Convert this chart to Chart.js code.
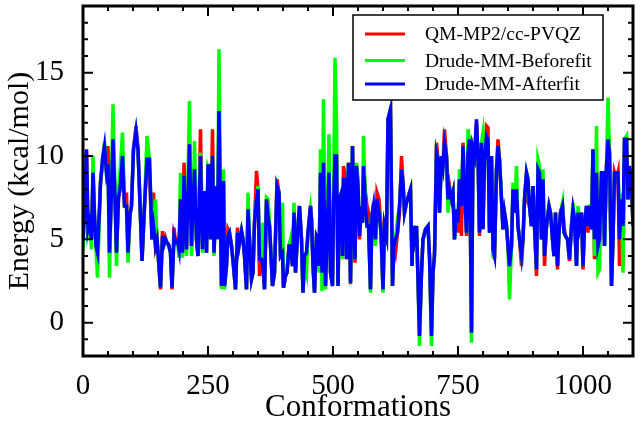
<!DOCTYPE html>
<html>
<head>
<meta charset="utf-8">
<script src="https://cdn.jsdelivr.net/npm/chart.js@4"></script>
<style>
html,body{margin:0;padding:0;background:#fff;}
#wrap{width:641px;height:426px;}
</style>
</head>
<body>
<div id="wrap"><canvas id="c" width="641" height="426"></canvas></div>
<script>
// ---------------- data ----------------
const conformations = [
  0,3,7,10,13,17,20,23,26,29,33,35,39,43,47,50,53,57,60,64,67,71,74,79,83,87,90,94,97,101,106,110,113,118,123,128,133,138,141,145,148,150,155,159,161,165,168,171,175,178,182,185,189,192,195,199,202,207,213,217,220,
  223,227,230,235,239,241,244,247,250,253,255,259,262,267,269,272,277,281,283,287,290,293,297,301,305,309,312,317,320,323,327,330,333,337,340,343,347,350,353,357,360,363,367,370,373,379,383,388,392,395,399,401,405,408,412,415,419,422,425,430,433,437,440,
  443,447,450,455,457,460,463,467,470,472,475,478,481,485,488,492,495,499,501,504,507,510,513,517,519,521,525,527,531,535,539,541,544,547,550,553,557,559,561,565,568,571,575,578,581,585,588,592,596,600,603,607,610,615,619,622,625,629,633,637,640,643,647,651,655,658,
  660,663,667,670,673,677,680,685,690,693,697,700,703,707,710,713,717,720,723,727,730,733,737,740,743,747,750,753,757,760,763,767,770,773,777,780,783,787,790,793,797,800,803,807,810,813,817,820,823,827,830,833,837,840,843,847,850,853,857,860,863,867,870,873,877,
  880,883,887,890,893,897,900,903,907,910,913,917,920,923,927,932,935,939,942,945,949,952,955,959,962,965,969,973,977,980,983,987,990,993,997,1000,1003,1007,1010,1013,1017,1020,1023,1027,1030,1033,1037,1040,1043,1047,1050,1053,1057,1060,1063,1067,1070,1073,1077,1080,1083,1087,1090,1093,1097,1100
];

const qmMP2 = [
  5.8,6.5,10.2,5.8,6.2,5.2,9.0,6.0,5.0,4.4,7.0,8.4,9.5,10.6,9.0,10.6,4.2,8.0,11.0,7.5,4.2,7.5,8.0,10.0,7.0,7.8,4.2,6.5,7.0,10.4,11.8,10.4,8.0,3.7,7.0,9.8,9.0,5.0,7.8,4.6,5.0,4.2,2.0,5.5,4.6,5.1,4.8,4.7,4.2,2.0,5.7,4.8,5.0,4.4,7.4,4.2,9.6,4.4,10.7,4.6,7.5,
  9.4,5.0,4.0,11.6,4.4,7.8,7.8,4.2,9.4,9.4,5.0,11.6,4.2,8.2,5.0,12.7,2.2,8.5,2.2,3.4,5.6,5.4,4.6,3.4,2.0,5.7,4.6,5.5,5.0,4.0,2.0,6.8,5.0,2.6,3.0,6.0,9.1,8.0,2.8,3.8,3.4,2.0,7.4,6.4,5.8,2.2,3.0,8.6,7.8,4.0,4.2,2.1,2.8,3.0,4.6,4.6,3.4,6.6,3.0,5.8,7.0,5.0,1.8,
  4.0,4.2,5.4,7.0,6.2,3.4,1.8,5.2,5.0,3.4,9.0,3.0,9.6,2.2,5.0,9.0,3.0,2.2,7.0,10.0,10.0,2.2,7.4,7.8,4.0,9.4,8.6,3.8,9.6,2.3,10.6,7.0,3.6,9.4,8.2,5.0,7.0,6.0,9.4,7.8,7.0,6.6,2.0,6.4,7.2,5.0,7.8,7.4,5.8,2.0,5.8,5.2,12.2,12.8,2.2,4.6,4.2,5.4,6.6,10.0,8.4,6.6,7.2,7.6,8.0,3.6,
  5.8,5.0,5.8,2.6,-0.6,3.0,5.0,5.6,5.8,4.0,-0.6,3.0,4.2,10.8,9.8,6.6,10.0,9.4,11.6,10.0,7.4,8.2,7.4,7.8,5.0,6.8,5.4,8.6,5.2,10.8,8.0,5.2,10.2,11.0,-0.6,10.4,10.0,12.0,10.0,5.2,10.8,5.6,9.8,11.8,11.7,5.4,10.0,4.4,3.8,9.2,11.0,9.8,7.4,5.6,6.6,5.8,4.6,3.4,4.6,8.0,6.6,8.0,5.8,5.0,3.4,
  5.0,7.4,9.0,7.2,7.0,5.8,8.2,5.8,2.8,9.2,9.0,5.0,8.6,3.4,5.8,7.0,6.6,5.0,4.0,6.6,3.2,5.4,6.6,7.0,5.8,5.2,5.0,3.7,5.8,6.8,6.2,3.4,6.6,5.8,6.6,3.2,5.8,7.0,5.4,7.0,5.6,10.4,3.8,9.0,4.6,5.0,9.0,9.0,4.6,9.4,11.4,10.2,2.2,5.0,9.0,8.6,9.0,3.4,7.4,3.4,11.0,11.0,7.4,9.2,8.4,5.8
];

const drudeBeforefit = [
  4.3,6.5,9.5,5.5,6.0,4.4,10.0,6.5,4.4,2.7,6.5,8.4,9.8,10.8,8.8,9.5,2.7,8.5,13.1,8.0,3.4,8.0,9.0,11.4,7.0,7.0,3.6,6.5,7.0,10.4,11.5,10.2,8.0,3.7,7.0,11.2,9.8,5.0,5.8,7.4,5.0,4.2,2.1,5.0,4.6,5.0,4.7,4.7,4.2,2.1,5.0,4.8,4.9,3.9,9.0,3.9,8.8,4.0,13.3,4.0,6.5,
  10.9,5.0,4.0,10.2,4.2,7.5,6.6,4.2,9.4,9.2,5.0,10.0,4.0,8.2,5.0,16.4,2.0,9.2,2.0,3.4,5.2,5.4,4.6,3.4,2.0,5.4,4.6,5.5,5.0,4.0,2.0,7.8,5.0,2.6,3.0,6.0,7.4,8.2,3.8,3.8,6.0,2.0,7.5,7.4,6.1,2.2,3.0,8.2,7.8,4.0,7.2,2.1,2.8,3.0,4.6,5.0,3.4,7.2,3.0,5.8,7.0,5.0,1.8,
  3.6,3.0,5.4,6.8,6.2,3.4,1.8,5.0,5.0,3.0,10.4,1.9,13.4,2.0,5.0,11.3,3.0,2.2,7.0,15.9,12.0,2.2,7.4,7.8,3.8,8.6,8.6,4.0,9.6,2.4,10.6,7.0,3.8,9.6,8.6,5.4,7.0,6.0,11.2,7.0,5.8,5.8,1.8,6.4,7.0,4.6,7.4,6.6,5.4,1.8,5.8,5.2,12.2,12.8,2.2,4.6,5.0,6.2,7.0,9.2,8.4,6.6,7.2,7.6,8.0,3.4,
  5.8,5.0,5.8,2.6,-1.4,3.0,5.0,5.6,5.8,4.0,-1.4,3.0,4.0,10.2,9.8,6.6,10.0,9.4,10.8,10.0,6.6,8.0,7.4,7.8,5.0,6.8,6.0,9.2,7.0,10.6,8.0,5.4,11.6,11.0,-1.2,10.4,10.0,11.6,10.0,5.4,10.8,11.4,9.8,11.2,11.0,5.4,10.0,4.0,4.0,9.2,10.6,9.8,7.4,5.6,6.6,5.8,4.6,1.4,4.6,8.4,6.6,9.4,5.8,5.0,4.0,
  5.0,7.4,9.0,8.6,7.0,5.8,8.2,5.8,3.2,9.8,9.4,5.0,9.2,4.0,5.8,7.0,6.6,5.0,4.0,6.6,3.4,5.4,6.6,7.2,5.4,5.2,5.0,3.8,5.8,7.2,6.2,3.4,7.0,5.8,6.6,3.4,5.8,7.0,5.8,7.0,7.0,10.4,4.0,11.8,3.0,3.2,9.0,9.0,4.6,9.4,13.5,10.2,2.2,5.0,9.0,9.0,9.0,7.0,7.4,3.0,11.0,11.2,7.4,9.4,8.4,5.8
];

const drudeAfterfit = [
  5.0,6.5,10.4,5.6,6.0,5.0,9.0,6.5,4.6,4.2,6.8,8.4,9.8,10.6,9.0,9.5,4.2,8.0,11.0,7.5,4.2,7.5,8.0,10.0,7.0,7.0,4.2,6.5,7.0,10.4,11.5,10.4,8.0,3.7,7.0,9.8,9.8,5.0,5.8,4.6,5.0,4.2,2.1,5.2,4.6,5.0,4.8,4.7,4.2,2.1,5.2,4.8,4.9,4.4,7.4,4.2,8.8,4.4,10.7,4.6,7.0,
  9.2,5.0,4.0,10.0,4.4,7.8,7.8,4.2,9.4,9.4,5.0,10.0,4.2,8.2,5.0,12.7,2.2,8.5,2.2,3.4,5.2,5.4,4.6,3.4,2.0,5.4,4.6,5.5,5.0,4.0,2.0,6.8,5.0,2.6,3.0,6.0,7.4,8.0,3.8,3.8,3.4,2.0,7.4,6.4,5.8,2.2,3.0,8.2,7.8,4.0,4.2,2.1,2.8,3.0,4.6,4.6,3.4,6.6,3.0,5.8,7.0,5.0,1.8,
  4.0,4.2,5.4,7.0,6.2,3.4,1.8,5.2,5.0,3.4,9.0,3.0,9.6,2.2,5.0,9.0,3.0,2.2,7.0,10.0,10.0,2.2,7.4,7.8,4.0,8.6,8.6,3.8,9.6,2.4,10.6,7.0,3.8,9.4,8.2,5.2,7.0,6.0,9.4,7.0,5.8,5.8,2.0,6.4,7.0,5.0,7.4,6.6,5.4,2.0,5.8,5.2,12.2,12.8,2.2,4.6,5.0,5.4,7.0,9.2,8.4,6.6,7.2,7.6,8.0,3.4,
  5.8,5.0,5.8,2.6,-0.8,3.0,5.0,5.6,5.8,4.0,-0.8,3.0,4.0,10.2,9.8,6.6,10.0,9.4,10.8,10.0,7.4,8.0,7.4,7.8,5.0,6.8,6.0,8.6,7.0,10.6,8.0,5.4,10.2,11.0,-0.6,10.4,10.0,12.2,10.0,5.4,10.8,5.6,9.8,11.2,11.0,5.4,10.0,4.4,4.0,9.2,10.6,9.8,7.4,5.6,6.6,5.8,4.6,3.4,4.6,8.0,6.6,8.0,5.8,5.0,4.0,
  5.0,7.4,9.0,8.6,7.0,5.8,8.2,5.8,3.2,9.2,9.0,5.0,8.6,4.0,5.8,7.0,6.6,5.0,4.0,6.6,3.4,5.4,6.6,7.0,5.4,5.2,5.0,3.8,5.8,6.8,6.2,3.4,6.6,5.8,6.6,3.4,5.8,7.0,5.8,7.0,5.6,10.4,5.0,9.0,4.6,5.0,9.0,9.0,4.6,9.4,11.0,10.2,2.2,5.0,9.0,9.0,9.0,5.0,7.4,5.8,11.0,11.0,7.4,9.4,8.4,5.8
];

const seriesLabels = ['QM-MP2/cc-PVQZ', 'Drude-MM-Beforefit', 'Drude-MM-Afterfit'];
const seriesColors = ['#ff0000', '#00ff00', '#0000ff'];
const xTickValues = [0, 250, 500, 750, 1000];
const yTickValues = [0, 5, 10, 15];
const xRange = [0, 1100];
const yRange = [-2, 19];
const xMinorStep = 50;
const yMinorStep = 1;
const xTitle = 'Conformations';
const yTitle = 'Energy (kcal/mol)';

// ---------------- chart ----------------
const FONT = '"Liberation Serif", "Times New Roman", serif';

function toPoints(ys) { return conformations.map((x, i) => ({ x: x, y: ys[i] })); }

const seriesValues = [qmMP2, drudeBeforefit, drudeAfterfit];
const datasets = seriesValues.map((vals, i) => ({
  label: seriesLabels[i],
  data: toPoints(vals),
  borderColor: seriesColors[i],
  backgroundColor: seriesColors[i],
  borderWidth: 3.5,
  pointRadius: 0,
  tension: 0,
  fill: false,
  order: 2 - i
}));

const framePlugin = {
  id: 'frameAndLegend',
  afterDatasetsDraw(chart) {
    const ctx = chart.ctx;
    const a = chart.chartArea;
    const xs = chart.scales.x, ys = chart.scales.y;
    ctx.save();
    ctx.strokeStyle = '#000';
    ctx.lineWidth = 2;
    ctx.beginPath();
    for (let v = xRange[0]; v <= xRange[1]; v += xMinorStep) {
      const px = xs.getPixelForValue(v);
      const len = xTickValues.includes(v) ? 10 : 5;
      ctx.moveTo(px, a.bottom); ctx.lineTo(px, a.bottom - len);
      ctx.moveTo(px, a.top); ctx.lineTo(px, a.top + len);
    }
    for (let v = yRange[0]; v <= yRange[1]; v += yMinorStep) {
      const py = ys.getPixelForValue(v);
      const len = yTickValues.includes(v) ? 10 : 5;
      ctx.moveTo(a.left, py); ctx.lineTo(a.left + len, py);
      ctx.moveTo(a.right, py); ctx.lineTo(a.right - len, py);
    }
    ctx.stroke();
    ctx.lineWidth = 3;
    ctx.strokeRect(a.left, a.top, a.right - a.left, a.bottom - a.top);

    // legend box
    const lx = a.right - 280, ly = a.top + 9, lw = 250, lh = 85;
    ctx.fillStyle = '#fff';
    ctx.fillRect(lx, ly, lw, lh);
    ctx.lineWidth = 1.5;
    ctx.strokeRect(lx, ly, lw, lh);
    const rows = [19, 45.5, 69];
    ctx.font = '19.5px ' + FONT;
    ctx.textAlign = 'left';
    ctx.textBaseline = 'middle';
    chart.data.datasets.forEach((ds, i) => {
      const yy = ly + rows[i];
      ctx.strokeStyle = ds.borderColor;
      ctx.lineWidth = 3;
      ctx.beginPath();
      ctx.moveTo(lx + 12, yy); ctx.lineTo(lx + 52, yy);
      ctx.stroke();
      ctx.fillStyle = '#000';
      ctx.fillText(ds.label, lx + 72, yy + 1);
    });
    ctx.restore();
  }
};

new Chart(document.getElementById('c'), {
  type: 'line',
  data: { datasets: datasets },
  options: {
    responsive: false,
    animation: false,
    events: [],
    devicePixelRatio: 1,
    layout: { padding: { left: 0, right: 8, top: 6, bottom: 0 } },
    plugins: { legend: { display: false }, tooltip: { enabled: false } },
    scales: {
      x: {
        type: 'linear',
        min: xRange[0], max: xRange[1],
        afterBuildTicks: s => { s.ticks = xTickValues.map(v => ({ value: v })); },
        afterFit: s => { s.height = 70; s.paddingLeft = 0; s.paddingRight = 0; },
        grid: { display: false },
        border: { display: false },
        ticks: { autoSkip: false, maxRotation: 0, padding: 5, color: '#000',
                 font: { family: FONT, size: 29 }, callback: v => String(v) },
        title: { display: true, text: xTitle, color: '#000',
                 font: { family: FONT, size: 31 }, padding: { top: 0, bottom: 0 } }
      },
      y: {
        type: 'linear',
        min: yRange[0], max: yRange[1],
        afterBuildTicks: s => { s.ticks = yTickValues.map(v => ({ value: v })); },
        afterFit: s => { s.width = 83; s.paddingTop = 0; s.paddingBottom = 0; },
        grid: { display: false },
        border: { display: false },
        ticks: { autoSkip: false, padding: 11, color: '#000',
                 font: { family: FONT, size: 29 }, callback: v => String(v) },
        title: { display: true, text: yTitle, color: '#000',
                 font: { family: FONT, size: 30 }, padding: { top: 2, bottom: 0 } }
      }
    }
  },
  plugins: [framePlugin]
});
</script>
</body>
</html>
